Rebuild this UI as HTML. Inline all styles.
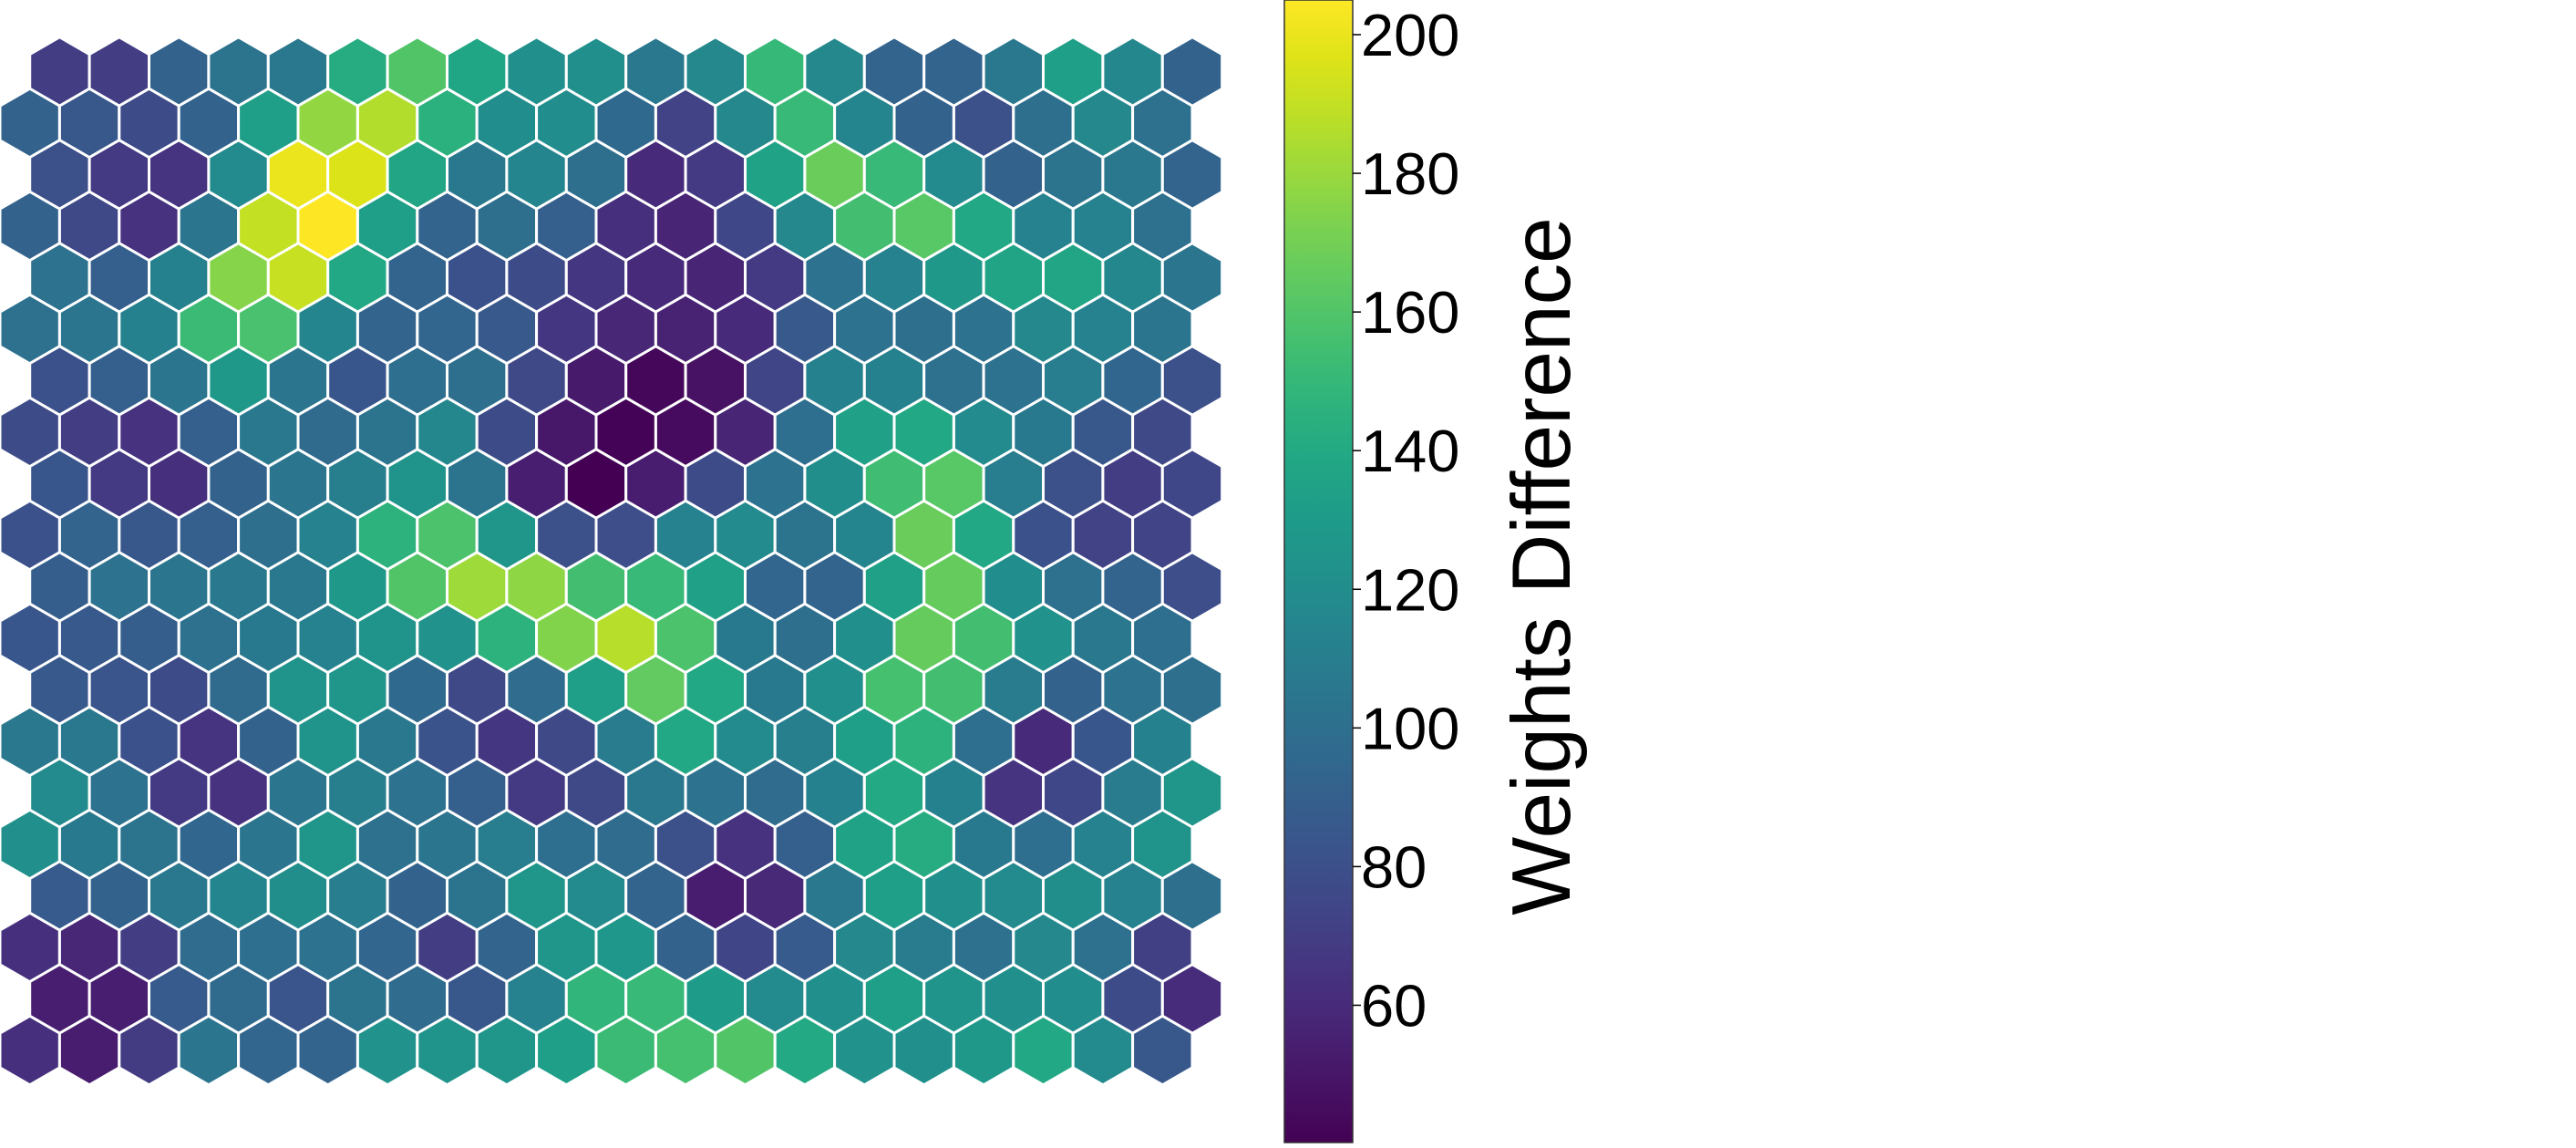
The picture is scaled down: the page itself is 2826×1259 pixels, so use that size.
<!DOCTYPE html>
<html><head><meta charset="utf-8"><style>
html,body{margin:0;padding:0;background:#fff;}
svg{display:block;font-family:"Liberation Sans",sans-serif;}
</style></head><body>
<svg id="chart" width="2826" height="1259" viewBox="0 0 2826 1259" xmlns="http://www.w3.org/2000/svg">
<defs>
<linearGradient id="vir" x1="0" y1="1" x2="0" y2="0"></linearGradient>
</defs>
<g id="hexes"></g>
<g id="cbar"></g>
</svg>
<script>
// values, top row first, 20 rows x 20 columns
const row0=[70,70,92,103,106,142,160,138,122,122,106,117,150,117,93,93,106,132,116,92];
const row1=[92,85,77,92,133,178,186,145,120,120,96,72,117,151,115,92,80,100,117,101];
const row2=[80,68,65,118,200,196,137,106,115,100,60,68,135,167,151,118,92,103,106,93];
const row3=[92,76,64,104,190,205,132,93,100,90,63,57,75,117,155,162,139,113,113,101];
const row4=[102,90,112,175,191,139,93,81,78,66,60,57,68,102,113,128,136,137,116,104];
const row5=[101,104,112,152,157,115,93,94,86,66,58,56,60,86,102,100,102,117,113,104];
const row6=[81,90,104,128,105,84,99,100,76,52,43,48,74,112,112,101,102,110,95,80];
const row7=[78,70,64,90,106,97,103,116,78,51,41,45,57,99,134,139,119,107,85,76];
const row8=[84,68,63,92,104,111,125,103,54,40,53,78,102,121,154,162,110,80,70,75];
const row9=[81,93,85,90,100,113,146,158,126,80,79,113,118,103,115,167,139,81,72,73];
const row10=[89,102,104,106,106,128,160,181,177,155,151,134,94,93,134,166,120,101,93,79];
const row11=[84,86,89,101,107,113,124,123,146,174,187,158,107,100,122,166,155,123,106,99];
const row12=[86,83,77,97,124,126,96,76,98,133,165,139,107,122,156,155,108,92,102,100];
const row13=[106,106,81,65,92,124,106,82,66,76,108,139,118,111,132,146,99,60,84,112];
const row14=[118,102,68,64,104,111,102,90,68,76,106,102,98,112,140,112,65,75,108,126];
const row15=[122,107,103,95,105,126,101,104,110,99,98,80,64,90,135,142,107,99,113,124];
const row16=[87,92,106,115,121,110,92,103,126,119,93,53,59,106,132,122,118,121,113,100];
const row17=[63,58,70,98,99,102,94,70,93,126,127,92,74,87,117,108,101,117,101,71];
const row18=[54,54,87,97,83,103,98,85,113,148,151,131,118,122,133,124,122,120,77,61];
const row19=[63,53,69,105,94,93,123,125,126,133,152,156,160,140,123,122,128,139,119,85];
const rows=[row0,row1,row2,row3,row4,row5,row6,row7,row8,row9,row10,row11,row12,row13,row14,row15,row16,row17,row18,row19];
const tickValues=[60,80,100,120,140,160,180,200];
const vmin=40.2, vmax=205;
const cbarLabel="Weights Difference";

const NS="http://www.w3.org/2000/svg";
const stops=["#440154","#471365","#482475","#463480","#414487","#3b528b","#355f8d","#2f6c8e","#2a788e","#25848e","#21918c","#1e9c89","#22a884","#2fb47c","#44bf70","#5ec962","#7ad151","#9bd93c","#bddf26","#dfe318","#fde725"];
function hex2rgb(h){return [parseInt(h.substr(1,2),16),parseInt(h.substr(3,2),16),parseInt(h.substr(5,2),16)];}
function viridis(v){
  let t=(v-vmin)/(vmax-vmin); t=Math.max(0,Math.min(1,t));
  const p=t*(stops.length-1), i=Math.min(stops.length-2,Math.floor(p)), f=p-i;
  const a=hex2rgb(stops[i]), b=hex2rgb(stops[i+1]);
  return "rgb("+a.map((x,k)=>Math.round(x+(b[k]-x)*f)).join(",")+")";
}
// geometry
const colStep=65.4, rowStep=56.5, y0=78.5, R=colStep/Math.sqrt(3);
function xPos(r,c){return (r%2===0?65.4:32.7)+c*colStep;}
function yPos(r){return y0+r*rowStep;}
const g=document.getElementById("hexes");
rows.forEach((row,r)=>{
  row.forEach((v,c)=>{
    const cx=xPos(r,c), cy=yPos(r), hw=colStep/2;
    const pts=[[cx,cy-R],[cx+hw,cy-R/2],[cx+hw,cy+R/2],[cx,cy+R],[cx-hw,cy+R/2],[cx-hw,cy-R/2]].map(p=>p[0].toFixed(1)+","+p[1].toFixed(1)).join(" ");
    const poly=document.createElementNS(NS,"polygon");
    poly.setAttribute("points",pts);
    poly.setAttribute("fill",viridis(v));
    poly.setAttribute("stroke","#fff");
    poly.setAttribute("stroke-width","3");
    
    
    g.appendChild(poly);
  });
});
// colorbar
const grad=document.getElementById("vir");
stops.forEach((s,i)=>{const st=document.createElementNS(NS,"stop");st.setAttribute("offset",(i/(stops.length-1)));st.setAttribute("stop-color",s);grad.appendChild(st);});
const cb=document.getElementById("cbar");
const cbX=1409, cbW=75, cbTop=0, cbBot=1253;
function cbY(v){return cbBot-(v-vmin)/(vmax-vmin)*(cbBot-cbTop);}
const rect=document.createElementNS(NS,"rect");
rect.setAttribute("x",cbX);rect.setAttribute("y",cbTop);rect.setAttribute("width",cbW);rect.setAttribute("height",cbBot-cbTop);
rect.setAttribute("fill","url(#vir)");rect.setAttribute("stroke","#333");rect.setAttribute("stroke-width","1.5");


cb.appendChild(rect);
tickValues.forEach(v=>{
  const y=cbY(v);
  const ln=document.createElementNS(NS,"line");
  ln.setAttribute("x1",cbX+cbW);ln.setAttribute("x2",cbX+cbW+9);ln.setAttribute("y1",y);ln.setAttribute("y2",y);
  ln.setAttribute("stroke","#000");ln.setAttribute("stroke-width","1.5");
  
  
  cb.appendChild(ln);
  const tx=document.createElementNS(NS,"text");
  tx.setAttribute("x",cbX+cbW+9);tx.setAttribute("y",y+23);
  tx.setAttribute("font-size","65");tx.setAttribute("fill","#000");
  tx.textContent=String(v);
  
  
  cb.appendChild(tx);
});
const lab=document.createElementNS(NS,"text");
lab.setAttribute("transform","translate(1722,621) rotate(-90)");
lab.setAttribute("text-anchor","middle");
lab.setAttribute("font-size","91");
lab.setAttribute("fill","#000");
lab.textContent=cbarLabel;


cb.appendChild(lab);
</script>
</body></html>
